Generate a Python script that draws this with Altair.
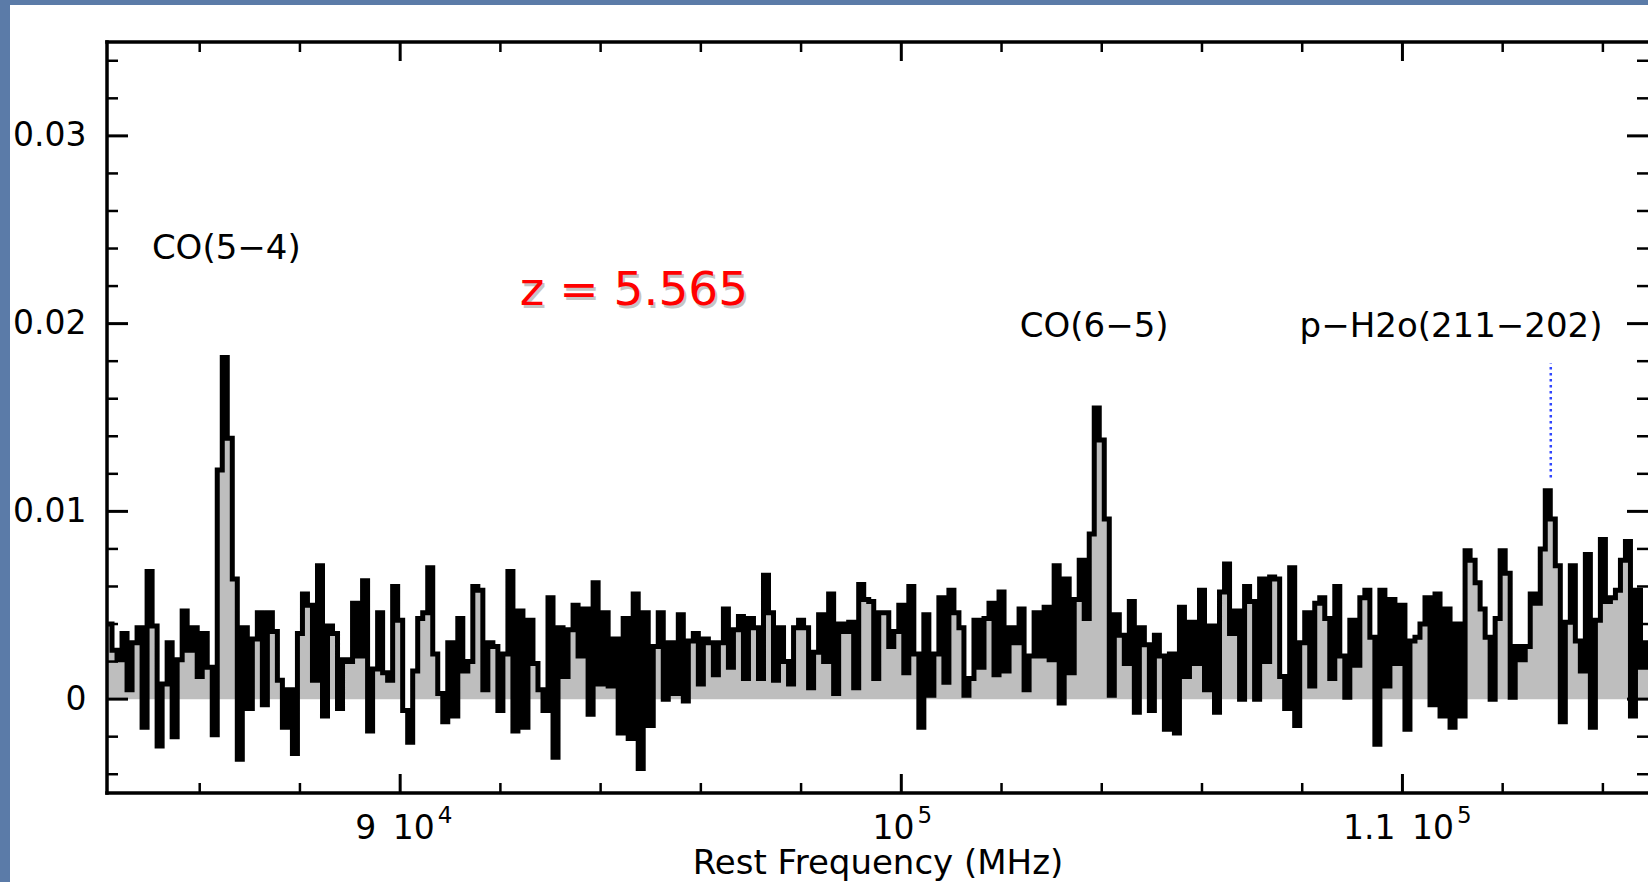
import altair as alt
import pandas as pd

# ---------------- data ----------------
FREQ_START = 84150.0   # MHz, left edge of first channel
CHAN_WIDTH = 100.0     # MHz per channel

# channel intensities, in units of 0.001
spec_a = [4.0, 2.6, 2.1, 3.5, 0.5, 3.0, 3.8, -1.5, 6.8, 3.9,
          -2.5, 0.8, 3.0, -2.0, 2.1, 4.7, 2.6, 3.8, 1.2, 3.5,
          1.7, -1.9, 12.2, 18.2, 13.9, 6.4, -3.2, 3.8, -0.5, 3.2,
          4.6, -0.3, 4.6, 3.6, 1.0, -1.5, 0.5, -2.9, 3.5, 5.6,
          5.0, 1.0, 7.1, -0.9, 3.9, 3.5, -0.5, 2.1, 2.0, 5.1,
          2.3, 6.3, -1.7, 1.6, 4.6, 1.4, 1.0, 6.0, 4.2, -0.6,
          -2.3, 1.5, 4.3, 4.6, 7.0, 2.4, 0.3, -1.2, 3.0, -0.9,
          4.3, 1.5, 2.0, 6.0, 5.8, 0.5, 3.0, 2.8, -0.6]
spec_b = [2.4, 6.8, -1.7, 4.7, -1.5, 4.2, 1.9, 0.5, -0.6, 5.4,
          -3.1, 3.8, 1.2, 3.7, 5.0, 2.3, 4.8, -0.8, 6.2, 0.8,
          4.6, 0.7, 3.2, -1.8, 4.3, -2.1, 5.6, -3.7, 4.6, -1.4,
          2.8, 4.6, 0.0, 3.0, 0.3, 4.5, -0.1, 3.1, 3.5, 0.8,
          3.2, 3.0, 1.3, 3.0, 4.8, 1.7, 3.7, 4.4, 1.1, 4.3,
          3.8, 1.1, 6.6, 4.6, 1.0, 3.8, 2.0, 0.8, 3.8, 4.2,
          3.8, 0.6, 2.5, 4.5, 2.0, 5.6, 0.3, 4.0, 3.6, 4.1,
          0.6, 6.1, 5.3, 5.2, 1.1, 4.6]
spec_c = [4.6, 2.8, 3.6, 5.0, 1.4, 6.0, 2.4, -1.5, 4.5, 0.2,
          2.4, 5.4, 0.9, 5.8, 4.6, 3.8, 0.2, 1.1, 4.2, 1.7,
          4.3, 5.1, 1.3, 5.7, 1.5, 3.8, 3.0, 4.8, 0.5, 2.3,
          4.6, 2.3, 4.9, 2.1, 7.1, -0.2, 6.4, 1.4, 5.3, 7.4,
          4.3, 8.8, 15.5, 13.8, 9.6, 0.2, 4.5, 3.4, 1.9, 5.2,
          -0.7, 3.8, 2.9, -0.6, 3.4, 2.3, -1.6, 2.4, -1.8, 4.9,
          1.2, 4.1, 1.9, 5.8, 0.5, 3.9, -0.7, 5.7, 7.2, 3.5,
          4.7, 0.0, 6.0, 5.2, 0.0, 6.4]
spec_d = [2.0, 6.5, 6.4, 1.2, -0.5, 7.0, -1.4, 3.0, 4.6, 0.7,
          5.1, 5.4, 4.3, 1.1, 6.0, 2.3, 0.1, 4.2, 1.8, 5.4,
          5.8, 3.3, -2.4, 5.8, 0.7, 5.3, 1.9, 5.0, -1.6, 3.1,
          3.3, 4.0, 5.4, -0.3, 5.6, -0.9, 4.8, -1.5, 4.0, -0.9,
          7.9, 7.4, 6.2, 4.8, 3.3, 0.0, 4.3, 7.9, 6.7, 0.1,
          2.8, 2.1, 2.8, 5.6, 5.1, 8.0, 11.1, 9.6, 7.1, -1.2,
          4.1, 7.1, 3.1, 1.5, 7.7, -1.5, 4.2, 8.5, 5.2, 5.4,
          5.8, 7.4, 8.4, -0.9, 5.8, 1.7, 3.0, 2.0]

line_labels = ["CO(5\u22124)", "CO(6\u22125)", "p\u2212H2o(211\u2212202)"]
line_label_freq = [86530, 103850, 110970]
line_label_level = [0.02346, 0.01931, 0.01931]

h2o_marker_freq = [112960]
h2o_marker_lo = [0.0118]
h2o_marker_hi = [0.0179]

redshift_text = ["z = 5.565"]
redshift_freq = [92385]
redshift_level = [0.02101]

# x tick labels: mantissa part, exponent part, and the frequency where they join
x_label_base = ["9\u200210", "10", "1.1\u200210"]
x_label_exp = ["4", "5", "5"]
x_label_join = [90690, 100262, 111029]

x_major_ticks = [90000, 100000, 110000]
x_minor_ticks = [86000, 88000, 92000, 94000, 96000, 98000,
                 102000, 104000, 106000, 108000, 112000, 114000]
y_major_ticks = [0.0, 0.01, 0.02, 0.03]
y_minor_ticks = [-0.004, -0.002, 0.002, 0.004, 0.006, 0.008,
                 0.012, 0.014, 0.016, 0.018, 0.022, 0.024, 0.026,
                 0.028, 0.032, 0.034]

X_DOMAIN = [84150, 114900]
Y_DOMAIN = [-0.005, 0.035]

# ---------------- build ----------------
vals = spec_a + spec_b + spec_c + spec_d
df = pd.DataFrame({
    "freq": [FREQ_START + CHAN_WIDTH * i for i in range(len(vals))],
    "flux": [v / 1000.0 for v in vals],
})
df["fill_top"] = df["flux"].clip(lower=0)
df["zero"] = 0.0

W, H = 1541, 751
FONT = "DejaVu Sans"
xs = alt.Scale(domain=X_DOMAIN, nice=False, zero=False)
ys = alt.Scale(domain=Y_DOMAIN, nice=False, zero=False)
one = alt.Data(values=[{}])

x_axis = alt.Axis(
    values=x_major_ticks, labels=False, domain=False, ticks=False,
    tickSize=0, grid=False,
    title="Rest Frequency (MHz)", titleFont=FONT, titleFontSize=34,
    titleFontWeight="normal", titleColor="black", titleY=80,
    titleBaseline="alphabetic", zindex=2)
y_axis = alt.Axis(
    values=y_major_ticks, format=".2~f", domain=False, ticks=False, tickSize=0,
    grid=False, labelFont=FONT, labelFontSize=33, labelColor="black",
    labelPadding=21, labelFlush=False, labelOverlap=False, title="", zindex=2)


def X(field):
    return alt.X(field, scale=xs, axis=x_axis)


def Y(field):
    return alt.Y(field, scale=ys, axis=y_axis)


panel = alt.Chart(one).mark_rect(color="white").encode(
    x=alt.value(-97), x2=alt.value(W + 2), y=alt.value(-37), y2=alt.value(H + 95))

area = alt.Chart(df).mark_area(interpolate="step-after", color="#bebebe", clip=True).encode(
    x=X("freq:Q"), y=Y("fill_top:Q"), y2="zero:Q")

line = alt.Chart(df).mark_line(interpolate="step-after", stroke="black", color="black",
                               strokeWidth=5.0, strokeJoin="miter", clip=True).encode(
    x=X("freq:Q"), y=Y("flux:Q"))

h2o_df = pd.DataFrame({"freq": h2o_marker_freq, "lo": h2o_marker_lo, "hi": h2o_marker_hi})
h2o = alt.Chart(h2o_df).mark_rule(color="#2f45ff", strokeWidth=2.5, strokeDash=[2.5, 3.5]).encode(
    x=X("freq:Q"), y=Y("lo:Q"), y2="hi:Q")


def frame_rule(**enc):
    return alt.Chart(one).mark_rule(color="black", strokeWidth=3.5,
                                    strokeCap="square").encode(**enc)


frame = [
    frame_rule(x=alt.value(0), x2=alt.value(W + 2), y=alt.value(0)),
    frame_rule(x=alt.value(0), y=alt.value(0), y2=alt.value(H)),
    frame_rule(x=alt.value(0), x2=alt.value(W + 2), y=alt.value(H)),
]


def xtick_layers(values, length, sw):
    d = alt.Chart(pd.DataFrame({"freq": values}))
    return [
        d.mark_rule(color="black", strokeWidth=sw).encode(
            x=X("freq:Q"), y=alt.value(0), y2=alt.value(length)),
        d.mark_rule(color="black", strokeWidth=sw).encode(
            x=X("freq:Q"), y=alt.value(H), y2=alt.value(H - length)),
    ]


def ytick_layers(values, length, sw):
    d = alt.Chart(pd.DataFrame({"flux": values}))
    return [
        d.mark_rule(color="black", strokeWidth=sw).encode(
            y=Y("flux:Q"), x=alt.value(0), x2=alt.value(length)),
        d.mark_rule(color="black", strokeWidth=sw).encode(
            y=Y("flux:Q"), x=alt.value(W), x2=alt.value(W - length)),
    ]


ticks = (xtick_layers(x_minor_ticks, 10, 2.5) + xtick_layers(x_major_ticks, 19, 3)
         + ytick_layers(y_minor_ticks, 11, 2.5) + ytick_layers(y_major_ticks, 21, 3))

xl_df = pd.DataFrame({"base": x_label_base, "exp": x_label_exp, "freq": x_label_join})
xl_base = alt.Chart(xl_df).mark_text(font=FONT, fontSize=33, align="right",
                                     baseline="alphabetic", color="black").encode(
    x=X("freq:Q"), y=alt.value(H + 46), text="base:N")
xl_exp = alt.Chart(xl_df).mark_text(font=FONT, fontSize=23, align="left",
                                    baseline="alphabetic", color="black", dx=3).encode(
    x=X("freq:Q"), y=alt.value(H + 30), text="exp:N")

ann_df = pd.DataFrame({"label": line_labels, "freq": line_label_freq, "flux": line_label_level})
ann = alt.Chart(ann_df).mark_text(font=FONT, fontSize=34, align="center",
                                  baseline="alphabetic", color="black").encode(
    x=X("freq:Q"), y=Y("flux:Q"), text="label:N")

z_df = pd.DataFrame({"label": redshift_text, "freq": redshift_freq, "flux": redshift_level})
z_shadow = alt.Chart(z_df).mark_text(font=FONT, fontSize=47, align="left",
                                     baseline="alphabetic", color="#808080",
                                     opacity=0.45, dx=2, dy=3).encode(
    x=X("freq:Q"), y=Y("flux:Q"), text="label:N")
z_text = alt.Chart(z_df).mark_text(font=FONT, fontSize=47, align="left",
                                   baseline="alphabetic", color="#ff0000").encode(
    x=X("freq:Q"), y=Y("flux:Q"), text="label:N")

chart = alt.layer(panel, area, line, h2o, *frame, *ticks, xl_base, xl_exp,
                  ann, z_shadow, z_text).properties(
    width=W, height=H,
    autosize=alt.AutoSizeParams(type="none"),
    padding={"left": 107, "top": 42, "right": 0, "bottom": 89},
).configure(background="#5b7ba8").configure_view(stroke="transparent")

chart.save("out.html", embed_options={"renderer": "svg", "actions": False})
